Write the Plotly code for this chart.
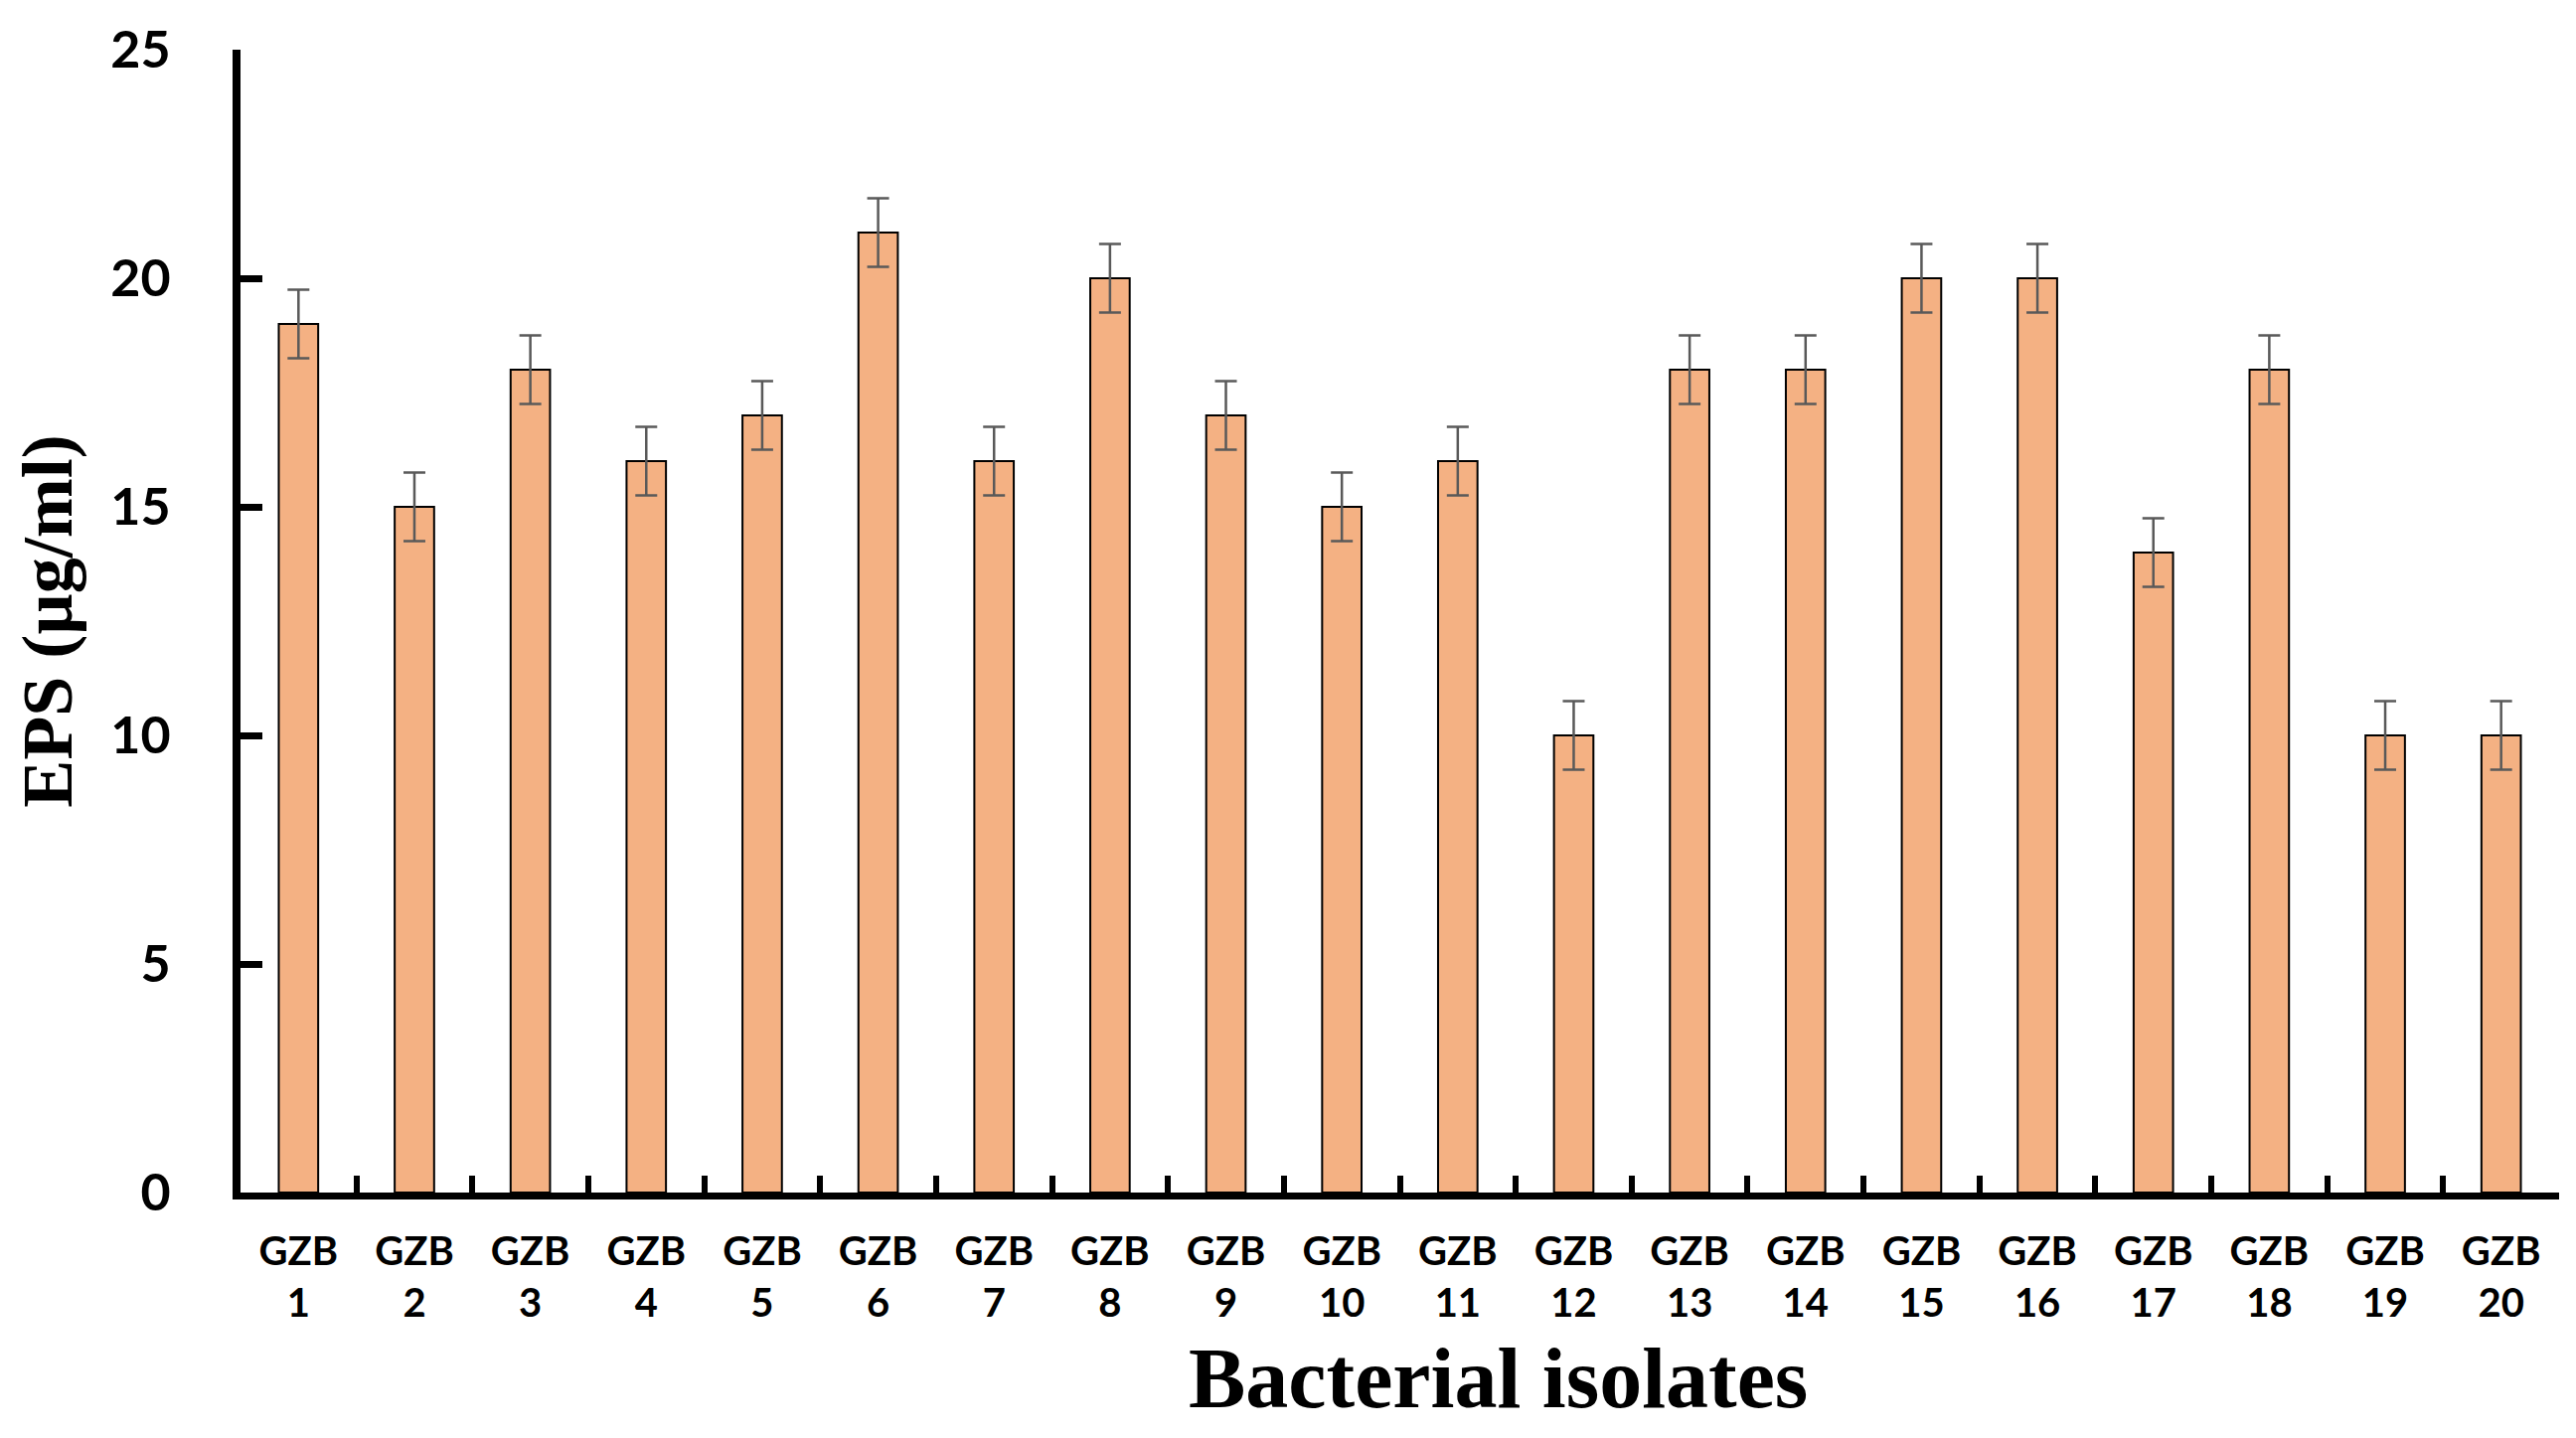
import plotly.graph_objects as go

isolates = ["GZB<br>" + str(i) for i in range(1, 21)]
eps_values = [19, 15, 18, 16, 17, 21, 16, 20, 17, 15, 16, 10, 18, 18, 20, 20, 14, 18, 10, 10]
eps_errors = [0.75] * 20
y_ticks = [0, 5, 10, 15, 20, 25]

fig = go.Figure()
fig.add_trace(go.Bar(
    x=isolates,
    y=eps_values,
    marker=dict(color="#F4B183", line=dict(color="black", width=2)),
    error_y=dict(type="data", array=eps_errors, color="#595959", thickness=2.5, width=11),
    width=0.34,
))

# the page body keeps an 8px margin, so the figure is 16px smaller than the window
fig.update_layout(
    width=2576, height=1431,
    margin=dict(l=221, r=9, t=25, b=239),
    plot_bgcolor="white", paper_bgcolor="white",
    showlegend=False,
    font=dict(family="Lato", color="black"),
)
fig.update_xaxes(
    showline=True, linecolor="black", linewidth=7,
    ticks="inside", tickson="boundaries", ticklen=17, tickwidth=6, tickcolor="black",
    tickfont=dict(family="Lato", size=40, weight="bold"),
    ticklabelstandoff=18,
    range=[-0.5, 19.5],
)
fig.update_yaxes(
    range=[0, 25], tickvals=y_ticks,
    showline=True, linecolor="black", linewidth=8,
    ticks="inside", ticklen=22, tickwidth=7, tickcolor="black",
    showgrid=False, zeroline=False,
    tickfont=dict(family="Lato", size=52, weight="bold"),
    ticklabelstandoff=52, ticklabeloverflow="allow",
    title=dict(text="EPS (µg/ml)", standoff=44,
               font=dict(family="Liberation Serif", size=72, weight="bold")),
)

fig.add_annotation(
    text="Bacterial isolates", showarrow=False,
    xref="paper", yref="paper", x=0.5426, y=0,
    xanchor="center", yanchor="middle", yshift=-187,
    font=dict(family="Liberation Serif", size=86, weight="bold", color="black"),
)

fig.write_html("out.html")
